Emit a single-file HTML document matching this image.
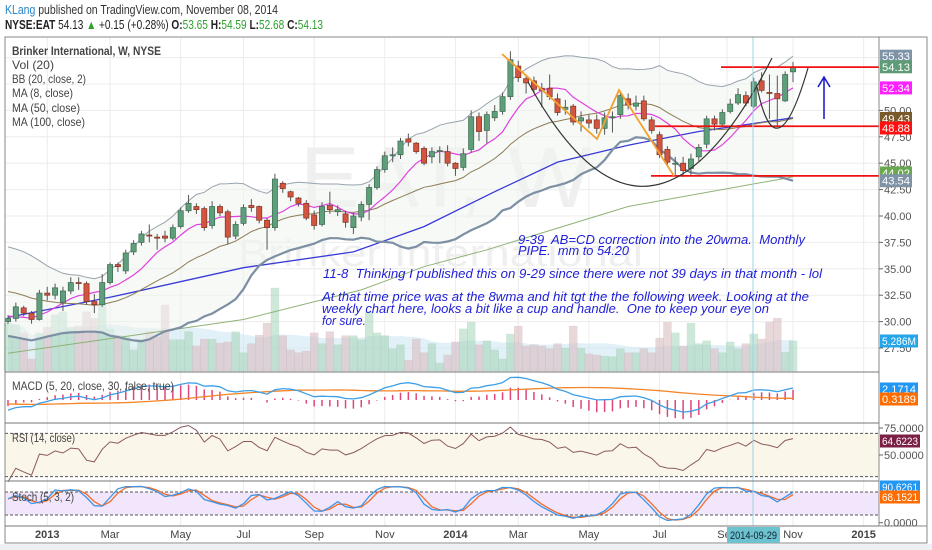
<!DOCTYPE html>
<html><head><meta charset="utf-8">
<style>
html,body{margin:0;padding:0;background:#f2f4f6;}
svg{display:block;font-family:"Liberation Sans",sans-serif;}
</style></head>
<body>
<svg id="chart" width="932" height="550" viewBox="0 0 932 550" xmlns="http://www.w3.org/2000/svg">
<rect x="0" y="0" width="932" height="550" fill="#ffffff"/>
<rect x="0" y="544" width="932" height="6" fill="#eef1f4"/>
<g>
<text x="5" y="14" font-size="12.5" textLength="273" lengthAdjust="spacingAndGlyphs" fill="#333"><tspan fill="#2a86c8">KLang</tspan> published on TradingView.com, November 08, 2014</text>
<text x="5" y="29" font-size="12.5" textLength="318" lengthAdjust="spacingAndGlyphs" fill="#222"><tspan font-weight="bold">NYSE:EAT</tspan> 54.13 <tspan fill="#2ea02e">▲</tspan> +0.15 (+0.28%) <tspan font-weight="bold">O:</tspan><tspan fill="#2ea02e">53.65</tspan> <tspan font-weight="bold">H:</tspan><tspan fill="#2ea02e">54.59</tspan> <tspan font-weight="bold">L:</tspan><tspan fill="#2ea02e">52.68</tspan> <tspan font-weight="bold">C:</tspan><tspan fill="#2ea02e">54.13</tspan></text>
</g>
<g id="grid"></g>
<g fill="#efefef">
<text x="300" y="207" font-size="86" textLength="292" lengthAdjust="spacingAndGlyphs">EAT, W</text>
<text x="238" y="266" font-size="38" textLength="405" lengthAdjust="spacingAndGlyphs">Brinker International</text>
</g>
<g id="panelbg"></g>
<g id="vol"></g>
<g id="main"></g>
<g id="ind"></g>
<g id="draw"></g>
<g id="frame"></g>
<g id="axes"></g>
</svg>
<script>
// ---- data ----
const preCloses=[34.6,35.0,35.4,35.7,35.5,35.1,34.7,34.3,33.9,33.4,32.9,32.4,31.9,31.3,30.8,30.4,30.1,29.8,29.6];
const opens=[30.0,30.3,31.3,30.8,30.2,32.7,32.5,31.8,32.9,33.7,33.6,31.9,31.6,33.7,35.4,34.8,36.6,37.5,38.2,38.0,
38.1,37.9,39.0,40.5,40.9,40.7,39.1,40.9,40.4,38.1,39.3,41.0,40.9,39.6,38.9,43.1,42.3,41.7,41.2,40.1,
39.2,41.0,40.4,40.2,38.9,39.9,41.1,42.7,44.4,45.7,45.8,47.3,46.9,46.4,45.6,46.2,46.1,45.0,44.6,46.3,
49.4,48.1,49.3,49.9,51.3,54.2,53.0,52.8,52.1,52.1,51.1,50.1,50.4,49.0,49.1,49.1,48.3,49.4,49.6,51.1,
50.4,50.9,49.1,47.7,46.3,45.0,45.0,44.5,45.6,46.8,49.2,48.7,49.9,50.7,51.4,50.4,52.8,51.7,51.6,50.9,53.65];
const closes=[30.3,31.4,30.8,30.2,32.7,32.5,33.2,32.9,33.7,33.6,31.9,31.6,33.7,35.4,35.2,36.5,37.4,38.3,38.1,37.9,
37.9,38.9,40.5,41.2,40.6,38.9,40.9,40.3,38.0,39.2,40.8,40.8,39.6,38.9,43.5,42.6,41.8,41.2,39.8,39.1,
40.9,40.6,40.6,39.4,40.0,41.1,42.7,44.4,45.7,45.8,47.1,47.0,46.1,45.0,46.1,46.2,45.0,44.5,45.9,49.4,
48.0,49.6,49.9,51.3,54.8,53.1,52.6,52.0,51.9,51.3,49.8,50.3,48.9,49.3,48.8,48.3,49.3,49.4,51.4,50.5,
50.7,49.2,48.1,45.8,45.1,45.0,44.3,45.4,46.5,49.2,48.7,49.8,50.6,51.5,50.7,52.7,51.9,51.6,51.1,53.4,54.13];
const highs=[30.6,31.8,31.5,31.0,33.0,33.3,33.6,33.3,34.2,34.2,33.8,32.6,34.5,35.6,35.6,36.8,37.7,38.6,39.2,38.3,
38.6,39.2,40.8,42.0,41.2,40.9,41.4,41.1,40.6,39.5,41.1,41.6,41.0,39.8,44.0,43.3,42.4,41.8,41.5,40.5,
41.3,42.3,41.0,40.5,40.3,41.4,43.0,44.7,46.1,46.5,47.4,47.8,47.0,46.6,46.5,46.6,46.7,45.1,46.4,50.0,
49.8,49.9,50.5,51.7,55.6,54.7,53.4,53.2,52.6,53.4,51.6,51.0,50.6,49.9,49.6,49.6,49.8,49.9,51.7,51.6,
51.4,51.4,49.4,48.0,46.6,45.6,45.6,45.9,46.8,49.5,49.5,50.1,51.1,52.1,51.8,53.1,53.6,53.4,53.3,53.7,54.59];
const lows=[29.8,30.0,30.5,29.8,30.1,32.0,32.1,31.0,32.6,33.0,31.6,30.8,31.4,33.5,34.7,34.5,36.3,37.2,37.5,36.8,
37.5,37.7,38.8,40.3,40.2,38.6,38.8,40.0,37.3,37.8,39.1,40.4,39.3,36.8,38.6,42.2,41.4,40.9,39.6,38.7,
39.0,40.2,40.0,38.9,38.3,39.5,39.6,42.5,44.1,45.1,45.4,46.6,45.9,44.8,45.0,45.0,44.7,43.8,44.3,46.0,
47.1,46.9,49.0,49.6,51.0,52.7,51.6,51.6,50.3,51.0,49.5,49.6,48.6,48.0,48.3,47.8,47.7,47.9,49.2,50.1,
50.0,49.0,47.8,45.5,44.8,43.9,43.7,43.9,45.2,46.4,48.1,48.5,49.7,50.5,50.4,50.2,51.7,49.2,48.4,50.8,52.68];
const volumes=[8.4,8.1,6.7,2.1,6.7,7.7,9.9,10.4,7.7,7.9,10.4,9.3,12.0,7.4,6.3,6.0,3.7,5.6,7.0,6.0,
11.6,5.5,5.5,6.9,4.4,5.6,5.6,4.9,5.1,6.9,3.2,4.8,6.3,8.4,14.6,6.2,3.7,3.2,3.5,6.7,
4.8,6.9,4.6,6.2,6.2,5.5,10.4,6.7,6.2,3.9,4.6,1.9,5.6,3.2,4.8,1.4,2.8,5.1,7.4,8.6,
4.6,5.3,3.7,2.1,6.5,7.9,4.4,4.6,4.4,3.9,4.8,4.0,7.9,4.0,3.0,2.8,2.6,2.5,3.9,3.2,
3.2,3.9,3.2,5.8,8.6,6.7,4.4,8.4,4.8,5.3,3.9,3.2,5.1,3.9,4.8,6.5,5.6,8.6,9.3,3.3,5.286];
const ma50Bars=[0,13,30,44,53,62,70,79,88,100];
const ma50Vals=[30.4,32.3,35.1,36.6,39.0,42.3,45.1,46.7,48.0,49.3];
const ma100Bars=[0,15,30,45,53,61,79,100];
const ma100Vals=[27.0,28.6,30.2,33.0,35.2,36.8,40.9,43.7];
const priceTicks=["27.50","30.00","32.50","35.00","37.50","40.00","42.50","45.00","47.50","50.00"];
const monthLabels=["2013","Mar","May","Jul","Sep","Nov","2014","Mar","May","Jul","Sep","Nov","2015"];
const monthBars=[5,13,22,30,39,48,57,65,74,83,91.6,100,109];
const boldLabels=["2013","2014","2015"];

// ---- scales ----
const NS="http://www.w3.org/2000/svg";
const X0=8, DX=7.85;
function xOf(i){return X0+DX*i;}
function yP(p){return 216-(p-40)*10.56;}
function yV(v){return 371-v*5.68;}
function yM(v){return 400-v*5.4;}
function yR(v){return 455-(v-50)*1.08;}
function yS(v){return 522.7-v*0.383;}
function mk(tag,attrs,parent){const e=document.createElementNS(NS,tag);for(const k in attrs)e.setAttribute(k,attrs[k]);parent.appendChild(e);return e;}
const $=id=>document.getElementById(id);
const N=closes.length;
const allC=preCloses.concat(closes); const P=preCloses.length;

// ---- indicators ----
function sma(arr,n,i){let s=0,c=0;for(let k=Math.max(0,i-n+1);k<=i;k++){s+=arr[k];c++;}return s/c;}
function ema(arr,n){const a=2/(n+1);const out=[];let e=arr[0];for(let i=0;i<arr.length;i++){e=i?a*arr[i]+(1-a)*e:arr[0];out.push(e);}return out;}
const bbMid=[],bbUp=[],bbLo=[],ma8=[];
for(let i=0;i<N;i++){const j=i+P;const m=sma(allC,20,j);let v=0,c=0;for(let k=Math.max(0,j-19);k<=j;k++){v+=(allC[k]-m)**2;c++;}const sd=Math.sqrt(v/c);
bbMid.push(m);bbUp.push(m+2*sd);bbLo.push(m-2*sd);ma8.push(sma(allC,8,j));}
const e5=ema(allC,5),e20=ema(allC,20);const macdAll=e5.map((v,i)=>v-e20[i]);
const macd=[],sig=[];for(let i=0;i<N;i++){macd.push(macdAll[i+P]);sig.push(sma(macdAll,30,i+P));}
const rsi=[];{let ag=0,al=0;for(let j=1;j<allC.length;j++){const d=allC[j]-allC[j-1];const g=Math.max(d,0),l=Math.max(-d,0);if(j<=14){ag+=g/14;al+=l/14;}else{ag=(ag*13+g)/14;al=(al*13+l)/14;}if(j>=P)rsi.push(100-100/(1+ag/(al||1e-9)));}}
const rawK=[];for(let i=0;i<N;i++){let hh=-1e9,ll=1e9;for(let k=Math.max(0,i-4);k<=i;k++){hh=Math.max(hh,highs[k]);ll=Math.min(ll,lows[k]);}rawK.push(100*(closes[i]-ll)/(hh-ll));}
const stK=rawK.map((v,i)=>sma(rawK,3,i));const stD=stK.map((v,i)=>sma(stK,2,i));

// ---- grid & panel backgrounds ----
const grid=$('grid');
monthBars.forEach((b,i)=>{
 const l=mk('line',{x1:xOf(b),x2:xOf(b),y1:37,y2:526,stroke:'#ececec','stroke-width':1},grid);
 
 
});
priceTicks.forEach(t=>{
 const y=yP(parseFloat(t));
 const l=mk('line',{x1:5,x2:879,y1:y,y2:y,stroke:'#ececec'},grid);
 
 
});
[yP(52.5),yP(55)].forEach(y=>{mk('line',{x1:5,x2:879,y1:y,y2:y,stroke:'#ececec'},grid);});
const pbg=$('panelbg');
const rb=mk('rect',{x:5,y:yR(70),width:874,height:yR(30)-yR(70),fill:'#fbf6ea'},pbg);


const sb=mk('rect',{x:5,y:yS(80),width:874,height:yS(20)-yS(80),fill:'#f1e6fb'},pbg);


[[yR(70)],[yR(30)],[yS(80)],[yS(20)]].forEach(([y])=>{mk('line',{x1:5,x2:879,y1:y,y2:y,stroke:'#555','stroke-dasharray':'3,2','stroke-width':1},pbg);});

// ---- volume ----
const vol=$('vol');
let va='M'+xOf(0)+','+371;
for(let i=0;i<N;i++){va+=' L'+xOf(i)+','+yV(sma(volumes,20,i));}
va+=' L'+xOf(N-1)+',371 Z';
const vma=mk('path',{d:va,fill:'#cfe6f1',opacity:0.6},vol);


for(let i=0;i<N;i++){
 const up=closes[i]>=opens[i];
 const r=mk('rect',{x:xOf(i)-3.9,y:yV(volumes[i]),width:7.85,height:371-yV(volumes[i]),fill:up?'#a6d4b9':'#d7b9bd',opacity:0.55,stroke:up?'#9ccab0':'#cfaeb3','stroke-width':0.5},vol);
 
 
}

// ---- price pane ----
const main=$('main');
function line(vals,yf,attrs,parent,name){let d='';vals.forEach((v,i)=>{d+=(i?'L':'M')+xOf(i).toFixed(1)+','+yf(v).toFixed(1);});const p=mk('path',Object.assign({d:d,fill:'none'},attrs),parent);return p;}
function sparse(bars,vals,yf,attrs,parent,name){let d='';bars.forEach((b,i)=>{d+=(i?'L':'M')+xOf(b).toFixed(1)+','+yf(vals[i]).toFixed(1);});const p=mk('path',Object.assign({d:d,fill:'none'},attrs),parent);return p;}
let bf='';bbUp.forEach((v,i)=>{bf+=(i?'L':'M')+xOf(i)+','+yP(v);});for(let i=N-1;i>=0;i--)bf+='L'+xOf(i)+','+yP(bbLo[i]);
const bbf=mk('path',{d:bf+'Z',fill:'#eef4ee',opacity:0.55},main);


sparse(ma100Bars,ma100Vals,yP,{stroke:'#8fb276','stroke-width':1},main,'ma100-line');
sparse(ma50Bars,ma50Vals,yP,{stroke:'#3a3ad6','stroke-width':1.3},main,'ma50-line');
line(bbUp,yP,{stroke:'#97a3ae','stroke-width':1},main,'bb-upper');
line(bbLo,yP,{stroke:'#7c8fa3','stroke-width':2.2},main,'bb-lower');
line(bbMid,yP,{stroke:'#8d7d55','stroke-width':1},main,'bb-basis');
line(ma8,yP,{stroke:'#e040e0','stroke-width':1.2},main,'ma8-line');
for(let i=0;i<N;i++){
 const up=closes[i]>=opens[i];const x=xOf(i);
 const w=mk('line',{x1:x,x2:x,y1:yP(highs[i]),y2:yP(lows[i]),stroke:'#555','stroke-width':1},main);
 
 
 const t=yP(Math.max(opens[i],closes[i])),b=yP(Math.min(opens[i],closes[i]));
 const r=mk('rect',{x:x-2.6,y:t,width:5.2,height:Math.max(b-t,1),fill:up?'#5f9e7b':'#d4553f',stroke:up?'#3c6a50':'#7d3326','stroke-width':0.7},main);
 
 
}

// ---- indicators ----
const ind=$('ind');
for(let i=0;i<N;i++){const h=macd[i]-sig[i];
 const l=mk('line',{x1:xOf(i),x2:xOf(i),y1:400,y2:yM(h),stroke:'#e0457b','stroke-width':1.5},ind);
 
 }
line(sig,yM,{stroke:'#f5852a','stroke-width':1.3},ind,'macd-signal-line');
line(macd,yM,{stroke:'#3d9fe6','stroke-width':1.3},ind,'macd-line');
line(rsi,yR,{stroke:'#8a5a5a','stroke-width':1},ind,'rsi-line');
line(stD,yS,{stroke:'#f26d2b','stroke-width':1.3},ind,'stoch-d-line');
line(stK,yS,{stroke:'#3d95e6','stroke-width':1.3},ind,'stoch-k-line');

// ---- drawings ----
const dr=$('draw');
[[54.1,721],[48.5,655],[43.8,651]].forEach(([p,x1])=>{const l=mk('line',{x1:x1,x2:879,y1:yP(p),y2:yP(p),stroke:'#f01010','stroke-width':1.8},dr);});
const zz=mk('polyline',{points:'502,54 597,139 619,90 674,176',fill:'none',stroke:'#f2a030','stroke-width':1.8},dr);

const cup=mk('path',{d:'M528,82 Q648,302 772,58',fill:'none',stroke:'#333','stroke-width':1.2},dr);

const hd=mk('path',{d:'M757,87 Q776,178 808,68',fill:'none',stroke:'#333','stroke-width':1.2},dr);

const ar=mk('path',{d:'M824,119 L824,78 M818,87 L824,77 L830,87',fill:'none',stroke:'#2020d0','stroke-width':1.6},dr);

const vl=mk('line',{x1:753,x2:753,y1:37,y2:526,stroke:'#9fd3e2','stroke-width':1},dr);

const notes=[["9-39\u00a0 AB=CD correction into the 20wma.\u00a0 Monthly",518,244,287],["PIPE.\u00a0 mm to 54.20",518,255,111],
["11-8\u00a0 Thinking I published this on 9-29 since there were not 39 days in that month - lol",323,278,499],
["At that time price was at the 8wma and hit tgt the the following week. Looking at the",322,301,487],
["weekly chart here, looks a bit like a cup and handle.\u00a0 One to keep your eye on",322,313,447],["for sure.",322,325,44]];
notes.forEach(n=>{const t=mk('text',{x:n[1],y:n[2],'font-size':12.5,'font-style':'italic',fill:'#1e1ed8',textLength:n[3],lengthAdjust:'spacingAndGlyphs',style:'white-space:pre'},dr);t.textContent=n[0];});

// ---- frame & legends ----
const fr=$('frame');
mk('rect',{x:5,y:37,width:922,height:506,fill:'none',stroke:'#8a8a8a','stroke-width':1},fr);
mk('line',{x1:879,x2:879,y1:37,y2:526,stroke:'#8a8a8a'},fr);
[372,423,481,526].forEach(y=>mk('line',{x1:5,x2:879,y1:y,y2:y,stroke:'#777','stroke-width':1},fr));
mk('line',{x1:879,x2:927,y1:526,y2:526,stroke:'#8a8a8a'},fr);
const leg=[["Brinker International, W, NYSE",55,149,'bold'],["Vol (20)",69,42,'normal'],["BB (20, close, 2)",83,74,'normal'],["MA (8, close)",97,61,'normal'],["MA (50, close)",112,68,'normal'],["MA (100, close)",126,73,'normal'],
["MACD (5, 20, close, 30, false, true)",390,162,'normal'],["RSI (14, close)",442,63,'normal'],["Stoch (5, 3, 2)",501,62,'normal']];
leg.forEach(l=>{const t=mk('text',{x:12,y:l[1],'font-size':12,fill:'#444','font-weight':l[3],textLength:l[2],lengthAdjust:'spacingAndGlyphs'},fr);t.textContent=l[0];});

// ---- axes ----
const ax=$('axes');
priceTicks.forEach(t=>{const y=yP(parseFloat(t));mk('line',{x1:879,x2:883,y1:y,y2:y,stroke:'#666'},ax);const e=mk('text',{x:884,y:y+4,'font-size':11,fill:'#555'},ax);e.textContent=t;});
[["75.0000",yR(75)],["50.0000",yR(50)],["0.0000",yS(0)]].forEach(([t,y])=>{mk('line',{x1:879,x2:883,y1:y,y2:y,stroke:'#666'},ax);const e=mk('text',{x:884,y:y+4,'font-size':11,fill:'#555'},ax);e.textContent=t;});
const boxes=[["55.33",yP(bbUp[N-1]),'#7f93a7'],["54.13",yP(closes[N-1]),'#5e9c78'],["52.34",yP(ma8[N-1]),'#ff20ff'],["49.43",yP(bbMid[N-1]),'#7a5a2a'],["48.88",128,'#ff1010'],["44.02",173,'#6aa84f'],["43.54",yP(bbLo[N-1]),'#7f93a7'],
["5.286M",yV(volumes[N-1]),'#26a6ea'],["2.1714",389,'#2196f3'],["0.3189",399,'#ff6d00'],["64.6223",441,'#7b1f45'],["90.6261",487,'#2196f3'],["68.1521",497,'#ff6d00']];
boxes.forEach(([t,y,c])=>{const g=mk('g',{},ax);const w=t.length>6?40:(t.length>5?38:32);mk('rect',{x:880,y:y-6.5,width:w,height:13,fill:c},g);const e=mk('text',{x:882,y:y+4,'font-size':11,fill:'#fff',textLength:w-4,lengthAdjust:'spacingAndGlyphs'},g);e.textContent=t;});
monthLabels.forEach((t,i)=>{const x=xOf(monthBars[i]);const e=mk('text',{x:x,y:538,'font-size':11,fill:'#444','text-anchor':'middle','font-weight':boldLabels.includes(t)?'bold':'normal'},ax);e.textContent=t;});
const db=mk('g',{},ax);
mk('rect',{x:727,y:527,width:53,height:16,fill:'#6cc3cf'},db);
const dt=mk('text',{x:730,y:539,'font-size':11,fill:'#123',textLength:47,lengthAdjust:'spacingAndGlyphs'},db);dt.textContent='2014-09-29';
</script>
</body></html>
